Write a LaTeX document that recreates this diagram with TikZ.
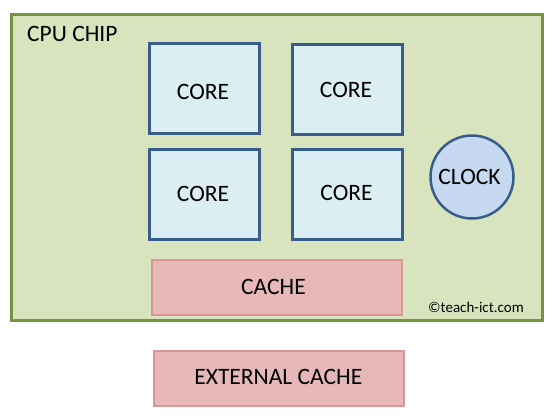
\documentclass[tikz,border=0pt]{standalone}
\usepackage{fontspec}
\setmainfont{Carlito}
\definecolor{chipfill}{HTML}{D7E4BD}
\definecolor{chipline}{HTML}{77933C}
\definecolor{corefill}{HTML}{DBEEF4}
\definecolor{coreline}{HTML}{385D8A}
\definecolor{clockfill}{HTML}{C6D9F1}
\definecolor{cachefill}{HTML}{E6B9B8}
\definecolor{cacheline}{HTML}{D99694}
\tikzset{
  chipbox/.style={draw=chipline, fill=chipfill, line width=3pt, minimum width=531pt, minimum height=306pt, inner sep=0pt},
  corebox/.style={draw=coreline, fill=corefill, line width=3pt, minimum width=110pt, minimum height=90pt, inner sep=0pt},
  clockbox/.style={circle, draw=coreline, fill=clockfill, line width=2.5pt, minimum size=83pt, inner sep=0pt},
  cachebox/.style={draw=cacheline, fill=cachefill, line width=2pt, minimum width=250pt, minimum height=55pt, inner sep=0pt},
  lbl/.style={inner sep=0pt, text height=15.1pt, text depth=0pt, font=\fontsize{23.5}{27}\selectfont},
}
\begin{document}
\begin{tikzpicture}[x=1pt, y=-1pt]
\useasboundingbox (0,0) rectangle (553,418);
\fill[white] (0,0) rectangle (553,418);
\node[chipbox] (chip) at (277,167.5) {};
\node[lbl, anchor=west] (chiplbl) at (27,34) {CPU CHIP};
\node[corebox] (core1) at (204.5,88.5) {};
\node[corebox] (core2) at (347.5,89) {};
\node[corebox] (core3) at (204.5,194.5) {};
\node[corebox] (core4) at (347.5,194.5) {};
\node[lbl] (t1) at (203,92) {CORE};
\node[lbl] (t2) at (346,89.5) {CORE};
\node[lbl] (t3) at (203,193.5) {CORE};
\node[lbl] (t4) at (346.5,192.5) {CORE};
\node[clockbox] (clock) at (472,177) {};
\node[lbl] (tclock) at (469.5,177) {CLOCK};
\node[cachebox] (cache) at (277,287.5) {};
\node[lbl] (tcache) at (273.5,287) {CACHE};
\node[inner sep=0pt, anchor=west, font=\fontsize{15}{18}\selectfont] (copy) at (428,307) {©teach-ict.com};
\node[cachebox] (ext) at (279,378.5) {};
\node[lbl] (text) at (278.3,377) {EXTERNAL CACHE};
\end{tikzpicture}
\end{document}
